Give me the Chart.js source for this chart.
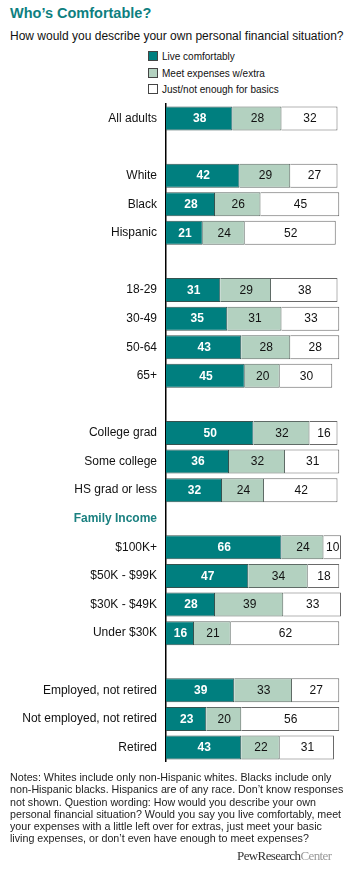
<!DOCTYPE html>
<html>
<head>
<meta charset="utf-8">
<script src="https://cdn.jsdelivr.net/npm/chart.js@4/dist/chart.umd.min.js"></script>
<style>
  body { margin: 0; background: #fff; font-family: "Liberation Sans", Arial, sans-serif; }
  #page { position: relative; width: 358px; height: 873px; overflow: hidden; }
  .abs { position: absolute; }
  #title { left: 10px; top: 5px; font-size: 14.5px; font-weight: bold; color: #0e7f7f; }
  #subtitle { left: 10px; top: 29px; font-size: 12px; color: #111; }
  .leg { left: 148px; font-size: 10px; color: #111; }
  .leg span { display: inline-block; width: 8px; height: 8px; border: 1px solid #444; margin-right: 4px; vertical-align: -1px; }
  #chartBox { left: 0; top: 88px; width: 358px; height: 690px; }
  #notes { left: 10px; top: 771px; font-size: 10.7px; line-height: 12.3px; color: #222; }
  #pew { left: 237px; top: 848px; font-family: "Liberation Serif", serif; font-size: 13px; letter-spacing: -0.6px; color: #333; }
  #pew i { font-style: normal; color: #999; }
</style>
</head>
<body>
<div id="page">
  <div id="title" class="abs">Who’s Comfortable?</div>
  <div id="subtitle" class="abs">How would you describe your own personal financial situation?</div>
  <div class="abs leg" style="top:51px"><span style="background:#007f7f"></span>Live comfortably</div>
  <div class="abs leg" style="top:68px"><span style="background:#b3d1c0"></span>Meet expenses w/extra</div>
  <div class="abs leg" style="top:84px"><span style="background:#fff"></span>Just/not enough for basics</div>
  <div id="chartBox" class="abs"><canvas id="chart"></canvas></div>
  <div id="notes" class="abs">Notes: Whites include only non-Hispanic whites. Blacks include only<br>non-Hispanic blacks. Hispanics are of any race. Don’t know responses<br>not shown. Question wording: How would you describe your own<br>personal financial situation? Would you say you live comfortably, meet<br>your expenses with a little left over for extras, just meet your basic<br>living expenses, or don’t even have enough to meet expenses?</div>
  <div id="pew" class="abs">PewResearch<i>Center</i></div>
</div>
<script>
// rows, '' = spacer row
const categories = ['All adults', '', 'White', 'Black', 'Hispanic', '',
  '18-29', '30-49', '50-64', '65+', '',
  'College grad', 'Some college', 'HS grad or less', 'Family Income',
  '$100K+', '$50K - $99K', '$30K - $49K', 'Under $30K', '',
  'Employed, not retired', 'Not employed, not retired', 'Retired'];

const comfortable = [38, null, 42, 28, 21, null, 31, 35, 43, 45, null, 50, 36, 32, null, 66, 47, 28, 16, null, 39, 23, 43];
const extras      = [28, null, 29, 26, 24, null, 29, 31, 28, 20, null, 32, 32, 24, null, 24, 34, 39, 21, null, 33, 20, 22];
const basics      = [32, null, 27, 45, 52, null, 38, 33, 28, 30, null, 16, 31, 42, null, 10, 18, 33, 62, null, 27, 56, 31];

const seriesNames = ['Live comfortably', 'Meet expenses w/extra', 'Just/not enough for basics'];
const headerRow = 'Family Income';

// draws the numbers inside each segment
const barLabels = {
  id: 'barLabels',
  afterDatasetsDraw(chart) {
    const ctx = chart.ctx;
    ctx.save();
    ctx.textAlign = 'center';
    ctx.textBaseline = 'middle';
    chart.data.datasets.forEach((ds, i) => {
      const meta = chart.getDatasetMeta(i);
      meta.data.forEach((el, j) => {
        const v = ds.data[j];
        if (v == null) return;
        const p = el.getProps(['x', 'y', 'base'], true);
        ctx.font = (i === 0 ? 'bold ' : '') + '12px "Liberation Sans", Arial, sans-serif';
        ctx.fillStyle = i === 0 ? '#fff' : '#111';
        ctx.fillText(v, (p.x + p.base) / 2 + 0.5, p.y + 0.5);
      });
    });
    ctx.restore();
  }
};

const segBorder = { top: 1, right: 1, bottom: 1, left: 0 };

new Chart(document.getElementById('chart'), {
  type: 'bar',
  data: {
    labels: categories,
    datasets: [
      { label: seriesNames[0], data: comfortable, backgroundColor: '#007f7f', borderColor: '#35524f' },
      { label: seriesNames[1], data: extras, backgroundColor: '#b3d1c0', borderColor: '#5f6b66' },
      { label: seriesNames[2], data: basics, backgroundColor: '#ffffff', borderColor: '#6a6a6a' }
    ].map(d => Object.assign(d, {
      borderWidth: segBorder,
      borderSkipped: false,
      barPercentage: 0.84,
      categoryPercentage: 1
    }))
  },
  options: {
    indexAxis: 'y',
    responsive: true,
    maintainAspectRatio: false,
    animation: false,
    layout: { padding: { top: 0, bottom: 0, right: 17, left: 0 } },
    plugins: {
      legend: { display: false },
      tooltip: { enabled: false }
    },
    scales: {
      x: {
        stacked: true,
        min: 0,
        max: 100,
        display: false
      },
      y: {
        stacked: true,
        afterFit(scale) { scale.width = 166; },
        grid: { display: false, drawTicks: false },
        border: { display: true, color: '#000', width: 1.5 },
        ticks: {
          padding: 9,
          autoSkip: false,
          color: ctx => categories[ctx.index] === headerRow ? '#1b8080' : '#111',
          font: ctx => categories[ctx.index] === headerRow
            ? { family: '"Liberation Sans", Arial, sans-serif', size: 12, weight: 'bold' }
            : { family: '"Liberation Sans", Arial, sans-serif', size: 12 }
        }
      }
    }
  },
  plugins: [barLabels]
});
</script>
</body>
</html>
